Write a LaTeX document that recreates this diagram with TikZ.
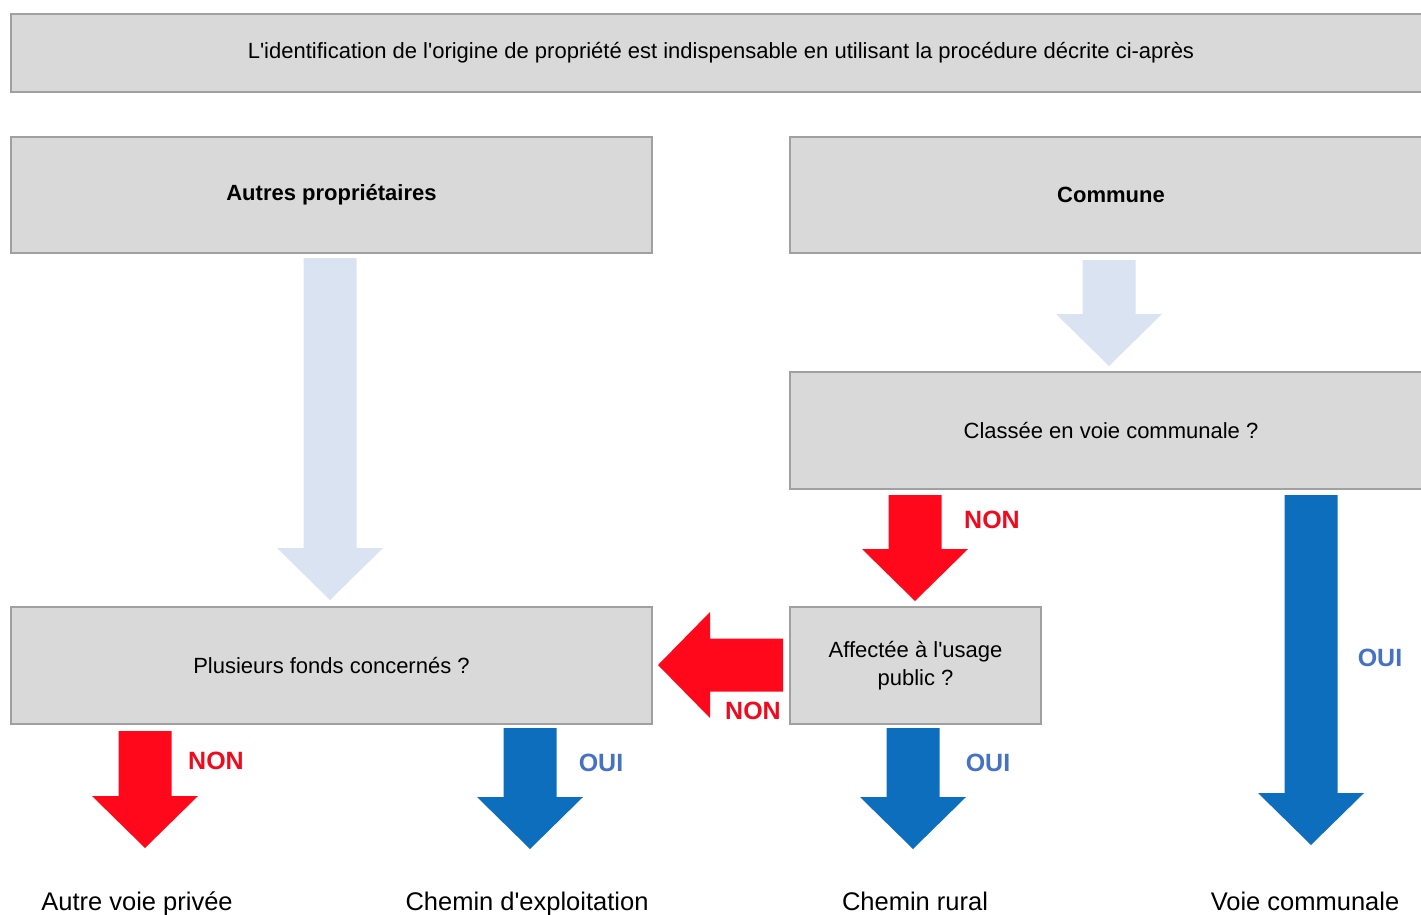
\documentclass[tikz,border=0pt]{standalone}
\usepackage{fontspec}
\setmainfont{Liberation Sans}
\usetikzlibrary{calc}

\definecolor{boxfill}{RGB}{217,217,217}
\definecolor{boxline}{RGB}{160,160,160}
\definecolor{paleblue}{RGB}{218,227,241}
\definecolor{arrred}{RGB}{255,8,28}
\definecolor{arrblue}{RGB}{14,110,190}
\definecolor{txtred}{RGB}{240,10,30}
\definecolor{txtblue}{RGB}{70,114,196}

% straight apostrophe
\newcommand{\sq}{\textquotesingle}

\tikzset{
  panel/.style={draw=boxline, line width=1.5pt, fill=boxfill, inner sep=0pt,
    align=center, font=\fontsize{22}{28}\selectfont},
  leaf/.style={font=\fontsize{25.5}{30}\selectfont, inner sep=0pt, anchor=base},
  redtag/.style={font=\fontsize{25}{30}\selectfont\bfseries, text=txtred, inner sep=0pt},
  bluetag/.style={font=\fontsize{25}{30}\selectfont\bfseries, text=txtblue, inner sep=0pt},
}

% Block arrow from #2 to #3 (tip), filled with colour #1
\newcommand{\blockarrow}[3]{%
  \coordinate (hb) at ($(#3)!52pt!(#2)$);
  \fill[#1] ($(#2)!26.5pt!90:(#3)$) -- ($(hb)!26.5pt!90:(#3)$) -- ($(hb)!53pt!90:(#3)$)
    -- (#3) -- ($(hb)!53pt!-90:(#3)$) -- ($(hb)!26.5pt!-90:(#3)$)
    -- ($(#2)!26.5pt!-90:(#3)$) -- cycle;
}

\begin{document}
\begin{tikzpicture}[x=1pt, y=-1pt]
\useasboundingbox (0,0) rectangle (1421,915);

% boxes
\node[panel, minimum width=1420pt, minimum height=78pt] (intro) at (721,53)
  {L\sq identification de l\sq origine de propriété est indispensable en utilisant la procédure décrite ci-après};
\node[panel, minimum width=641pt, minimum height=116pt] (autres) at (331.5,195)
  {\bfseries Autres propriétaires};
\node[panel, minimum width=642pt, minimum height=116pt] (commune) at (1111,195)
  {\bfseries Commune};
\node[panel, minimum width=642pt, minimum height=117pt] (classee) at (1111,430.5)
  {Classée en voie communale ?};
\node[panel, minimum width=641pt, minimum height=117pt] (plusieurs) at (331.5,665.5)
  {Plusieurs fonds concernés ?};
\node[panel, minimum width=251pt, minimum height=117pt] (affectee) at (915.5,665.5)
  {Affectée à l\sq usage\\public ?};

% outcomes
\node[leaf] (autrevoie) at (137,910) {Autre voie privée};
\node[leaf] (exploit) at (527,910) {Chemin d\sq exploitation};
\node[leaf] (rural) at (915,910) {Chemin rural};
\node[leaf] (voiecom) at (1305,910) {Voie communale};

% arrow anchors
\coordinate (a1s) at (330,258);  \coordinate (a1e) at (330,600);
\coordinate (a2s) at (1109,260); \coordinate (a2e) at (1109,366);
\coordinate (a3s) at (915,495);  \coordinate (a3e) at (915,601);
\coordinate (a4s) at (1311,495); \coordinate (a4e) at (1311,845);
\coordinate (a5s) at (783,665);  \coordinate (a5e) at (658,665);
\coordinate (a6s) at (145,731);  \coordinate (a6e) at (145,848);
\coordinate (a7s) at (530,728);  \coordinate (a7e) at (530,849);
\coordinate (a8s) at (913,728);  \coordinate (a8e) at (913,849);

\blockarrow{paleblue}{a1s}{a1e}
\blockarrow{paleblue}{a2s}{a2e}
\blockarrow{arrred}{a3s}{a3e}
\blockarrow{arrblue}{a4s}{a4e}
\blockarrow{arrred}{a5s}{a5e}
\blockarrow{arrred}{a6s}{a6e}
\blockarrow{arrblue}{a7s}{a7e}
\blockarrow{arrblue}{a8s}{a8e}

% branch labels
\node[redtag] (n1) at (992,520) {NON};
\node[bluetag] (o1) at (1380,658) {OUI};
\node[redtag] (n2) at (753,711) {NON};
\node[redtag] (n3) at (216,761) {NON};
\node[bluetag] (o2) at (601,763) {OUI};
\node[bluetag] (o3) at (988,763) {OUI};
\end{tikzpicture}
\end{document}
